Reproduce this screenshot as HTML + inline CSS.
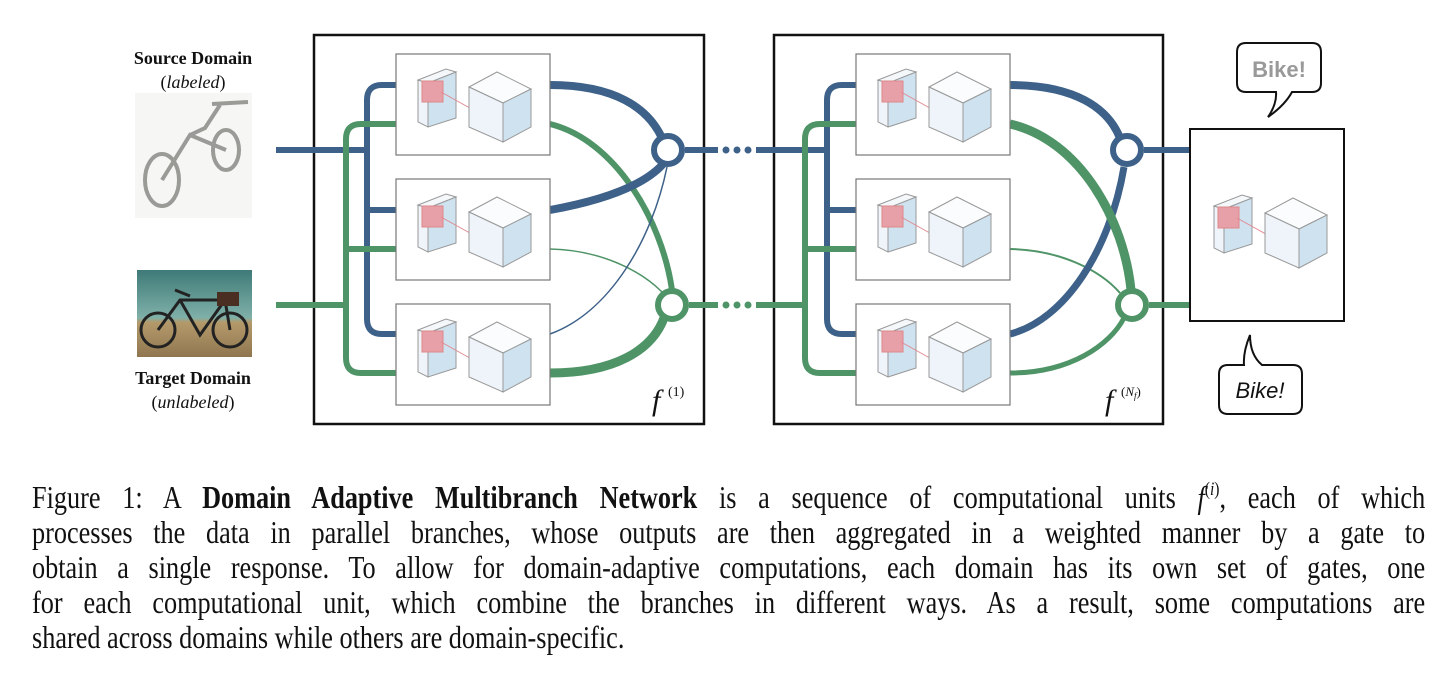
<!DOCTYPE html>
<html><head><meta charset="utf-8"><style>
body{margin:0;width:1456px;height:690px;background:#fff;position:relative;overflow:hidden;font-family:"Liberation Serif",serif}
.cap{position:absolute;left:32px;width:1699px;font-size:32px;line-height:35px;color:#111;transform:scaleX(0.82);transform-origin:0 0}
.cap div{text-align:justify;text-align-last:justify;white-space:nowrap;height:35px}
.cap div.last{text-align-last:left}
.cap sup{font-size:19px;line-height:0;vertical-align:13px}
.lbl{position:absolute;width:200px;text-align:center;font-size:18px;color:#111}
</style></head><body>
<svg width="1456" height="460" style="position:absolute;left:0;top:0">
<defs>
<g id="ic">
 <polygon points="22,26 32,29 32,73 22,68" fill="#eef4f9" stroke="#999" stroke-width="1"/>
 <polygon points="32,29 60,18 60,64 32,73" fill="#cfe2ef" stroke="#999" stroke-width="1"/>
 <polygon points="22,26 50,15 60,18 32,29" fill="#f4f8fb" stroke="#999" stroke-width="1"/>
 <rect x="26" y="27" width="21" height="21" fill="#e8a0a8" stroke="#d88" stroke-width="1"/>
 <line x1="45" y1="38" x2="81" y2="58" stroke="#e08a92" stroke-width="1"/>
 <rect x="79" y="55" width="4" height="5" fill="#e07a84"/>
 <polygon points="73,33 101,18 135,35 107,49" fill="#fafcfd" stroke="#999" stroke-width="1"/>
 <polygon points="73,33 107,49 107,88 73,73" fill="#eef4f9" stroke="#999" stroke-width="1"/>
 <polygon points="107,49 135,35 135,73 107,88" fill="#cfe2ef" stroke="#999" stroke-width="1"/>
</g>
</defs>
<g fill="none" stroke-linecap="butt">
<rect x="314" y="35" width="390" height="389" stroke="#111" stroke-width="2.5"/>
<rect x="774" y="35" width="389" height="389" stroke="#111" stroke-width="2.5"/>
<line x1="276" y1="150" x2="367" y2="150" stroke="#3d6189" stroke-width="6"/>
<line x1="276" y1="305" x2="346" y2="305" stroke="#4f9467" stroke-width="6"/>
<path d="M396,85 H382 Q367,85 367,100 V319 Q367,334 382,334 H396 M367,210 H396" stroke="#3d6189" stroke-width="6"/>
<path d="M396,124 H361 Q346,124 346,139 V358 Q346,373 361,373 H396 M346,249 H396" stroke="#4f9467" stroke-width="6"/>
<line x1="756" y1="150" x2="826" y2="150" stroke="#3d6189" stroke-width="6"/>
<line x1="756" y1="305" x2="805" y2="305" stroke="#4f9467" stroke-width="6"/>
<path d="M856,85 H842 Q827,85 827,100 V319 Q827,334 842,334 H856 M827,210 H856" stroke="#3d6189" stroke-width="6"/>
<path d="M856,124 H820 Q805,124 805,139 V358 Q805,373 820,373 H856 M805,249 H856" stroke="#4f9467" stroke-width="6"/>
<path d="M550,124 C615,140 662,220 672,290" stroke="#4f9467" stroke-width="6"/>
<path d="M550,249 C600,250 640,270 662,292" stroke="#4f9467" stroke-width="1.5"/>
<path d="M550,373 C615,373 652,350 664,318" stroke="#4f9467" stroke-width="9"/>
<path d="M550,85 C615,85 648,108 662,138" stroke="#3d6189" stroke-width="8"/>
<path d="M550,210 C605,200 645,185 664,163" stroke="#3d6189" stroke-width="8"/>
<path d="M550,334 C610,312 652,240 667,167" stroke="#3d6189" stroke-width="1.5"/>
<path d="M1010,249 C1060,250 1100,270 1120,293" stroke="#4f9467" stroke-width="2"/>
<path d="M1010,373 C1070,373 1110,345 1124,318" stroke="#4f9467" stroke-width="5"/>
<path d="M1010,85 C1075,85 1108,108 1120,138" stroke="#3d6189" stroke-width="8"/>
<path d="M1010,334 C1065,320 1110,250 1124,167" stroke="#3d6189" stroke-width="7"/>
<path d="M1010,124 C1080,140 1124,220 1131,290" stroke="#4f9467" stroke-width="9"/>
<line x1="685" y1="150" x2="718" y2="150" stroke="#3d6189" stroke-width="6"/>
<line x1="689" y1="305" x2="718" y2="305" stroke="#4f9467" stroke-width="6"/>
<line x1="1144" y1="150" x2="1190" y2="150" stroke="#3d6189" stroke-width="6"/>
<line x1="1149" y1="305" x2="1190" y2="305" stroke="#4f9467" stroke-width="6"/>
</g>
<g fill="#3d6189"><circle cx="726" cy="150" r="3.5"/><circle cx="737" cy="150" r="3.5"/><circle cx="748" cy="150" r="3.5"/></g>
<g fill="#4f9467"><circle cx="726" cy="305" r="3.5"/><circle cx="737" cy="305" r="3.5"/><circle cx="748" cy="305" r="3.5"/></g>
<circle cx="668" cy="150" r="14" fill="#fff" stroke="#3d6189" stroke-width="6"/>
<circle cx="672" cy="305" r="14" fill="#fff" stroke="#4f9467" stroke-width="6"/>
<circle cx="1127" cy="150" r="14" fill="#fff" stroke="#3d6189" stroke-width="6"/>
<circle cx="1132" cy="305" r="14" fill="#fff" stroke="#4f9467" stroke-width="6"/>
<g fill="#fff" stroke="#777" stroke-width="1.2">
<rect x="396" y="54" width="154" height="101"/><rect x="396" y="179" width="154" height="101"/><rect x="396" y="304" width="154" height="101"/>
<rect x="856" y="54" width="154" height="101"/><rect x="856" y="179" width="154" height="101"/><rect x="856" y="304" width="154" height="101"/>
</g>
<use href="#ic" x="396" y="54"/><use href="#ic" x="396" y="179"/><use href="#ic" x="396" y="304"/>
<use href="#ic" x="856" y="54"/><use href="#ic" x="856" y="179"/><use href="#ic" x="856" y="304"/>
<rect x="1190" y="129" width="154" height="192" fill="#fff" stroke="#111" stroke-width="2"/>
<use href="#ic" x="1192" y="180"/>
<path d="M1246,43 H1312 Q1321,43 1321,52 V83 Q1321,92 1312,92 H1292 Q1285,105 1268,117 Q1277,104 1276,92 H1246 Q1237,92 1237,83 V52 Q1237,43 1246,43 Z" fill="#fff" stroke="#111" stroke-width="2"/>
<text x="1279" y="77" text-anchor="middle" font-family="Liberation Sans,sans-serif" font-size="22" font-weight="bold" fill="#999">Bike!</text>
<path d="M1228,365 H1244 Q1243,352 1250,335 Q1250,355 1262,365 H1293 Q1302,365 1302,374 V405 Q1302,414 1293,414 H1228 Q1219,414 1219,405 V374 Q1219,365 1228,365 Z" fill="#fff" stroke="#111" stroke-width="2"/>
<text x="1260" y="398" text-anchor="middle" font-family="Liberation Sans,sans-serif" font-size="22" font-style="italic" fill="#111">Bike!</text>
<text x="652" y="410" font-size="30" font-style="italic" fill="#111">f</text>
<text x="668" y="396" font-size="14" fill="#111">(1)</text>
<text x="1105" y="410" font-size="30" font-style="italic" fill="#111">f</text>
<text x="1121" y="396" font-size="13" fill="#111">(<tspan font-style="italic">N<tspan font-size="9" dy="3">f</tspan></tspan><tspan dy="-3">)</tspan></text>
<defs><linearGradient id="sea" x1="0" y1="0" x2="0" y2="1"><stop offset="0" stop-color="#3f7a78"/><stop offset="0.55" stop-color="#7fb0a8"/><stop offset="0.6" stop-color="#b49a6a"/><stop offset="1" stop-color="#8f7650"/></linearGradient></defs>
<rect x="135" y="93" width="117" height="125" fill="#f6f6f4"/>
<g fill="none" stroke="#9a9a96" stroke-width="4"><ellipse cx="162" cy="180" rx="17" ry="26"/><ellipse cx="226" cy="150" rx="13" ry="20"/><path d="M162,180 L190,135 L226,150 M190,135 L205,128 L220,105 M212,104 L248,102"/></g>
<rect x="137" y="270" width="115" height="87" fill="url(#sea)"/>
<g fill="none" stroke="#222" stroke-width="3"><circle cx="158" cy="330" r="17"/><circle cx="230" cy="330" r="17"/><path d="M158,330 L180,300 L225,300 L230,330 M180,300 L200,335 L225,300 M175,290 L190,296"/></g>
<rect x="217" y="292" width="22" height="14" fill="#4a2e22"/>
</svg>
<div class="lbl" style="left:93px;top:48px;font-weight:bold">Source Domain</div>
<div class="lbl" style="left:93px;top:72px">(<i>labeled</i>)</div>
<div class="lbl" style="left:93px;top:368px;font-weight:bold">Target Domain</div>
<div class="lbl" style="left:93px;top:392px">(<i>unlabeled</i>)</div>
<div class="cap" style="top:480px">
<div>Figure 1: A <b>Domain Adaptive Multibranch Network</b> is a sequence of computational units <i>f</i><sup>(<i>i</i>)</sup>, each of which</div>
<div>processes the data in parallel branches, whose outputs are then aggregated in a weighted manner by a gate to</div>
<div>obtain a single response. To allow for domain-adaptive computations, each domain has its own set of gates, one</div>
<div>for each computational unit, which combine the branches in different ways. As a result, some computations are</div>
<div class="last">shared across domains while others are domain-specific.</div>
</div>
</body></html>
